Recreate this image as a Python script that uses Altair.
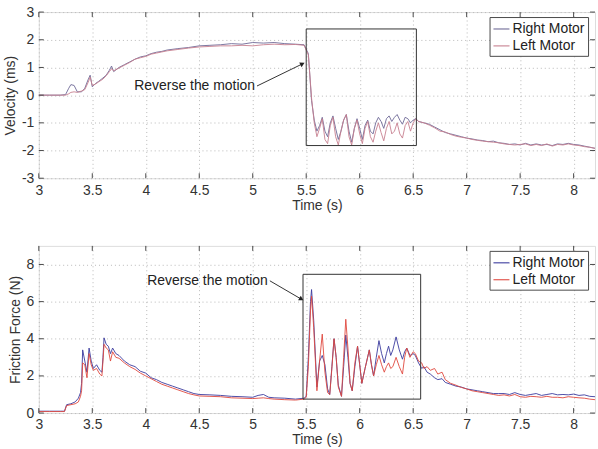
import altair as alt
import pandas as pd

FONT = "Liberation Sans"

# ---------------- Velocity panel data ----------------
t_vel = [3.00, 3.10, 3.20, 3.25, 3.28, 3.30, 3.33, 3.36, 3.40, 3.43, 3.46, 3.48, 3.50, 3.53, 3.56,
         3.60, 3.63, 3.66, 3.68, 3.70, 3.75, 3.80, 3.85, 3.90, 3.95, 4.00, 4.05, 4.10, 4.15, 4.20,
         4.30, 4.40, 4.50, 4.60, 4.70, 4.80, 4.90, 5.00, 5.10, 5.20, 5.30, 5.40, 5.48, 5.52,
         5.550, 5.575, 5.600, 5.625, 5.650, 5.675, 5.700, 5.725, 5.750, 5.775, 5.800, 5.825,
         5.850, 5.875, 5.900, 5.925, 5.950, 5.975, 6.000, 6.025, 6.050, 6.075, 6.100, 6.125,
         6.150, 6.175, 6.200, 6.225, 6.250, 6.275, 6.300, 6.325, 6.350, 6.375, 6.400, 6.425,
         6.450, 6.475, 6.500, 6.525, 6.550, 6.600,
         6.65, 6.70, 6.75, 6.80, 6.85, 6.90, 6.95, 7.00, 7.05, 7.10, 7.15, 7.20, 7.25, 7.30,
         7.35, 7.40, 7.45, 7.50, 7.55, 7.60, 7.65, 7.70, 7.75, 7.80, 7.85, 7.90, 7.95, 8.00,
         8.05, 8.10, 8.15, 8.20]
vel_right = [0, 0, 0, 0.02, 0.25, 0.38, 0.35, 0.12, 0.12, 0.25, 0.55, 0.72, 0.30, 0.42, 0.50,
             0.62, 0.72, 0.90, 1.05, 0.85, 1.00, 1.10, 1.20, 1.30, 1.38, 1.42, 1.50, 1.55, 1.58, 1.63,
             1.68, 1.72, 1.78, 1.80, 1.82, 1.86, 1.84, 1.90, 1.88, 1.90, 1.86, 1.84, 1.82, 1.50,
             -0.2, -0.9, -1.3, -1.1, -0.8, -1.3, -1.5, -1.0, -0.75, -1.2, -1.6, -1.3,
             -0.9, -0.7, -1.3, -1.7, -1.2, -0.85, -1.2, -1.6, -1.1, -0.9, -1.3, -1.4,
             -1.0, -0.8, -0.95, -1.2, -0.85, -0.75, -0.95, -0.8, -0.7, -0.9, -1.05, -0.8,
             -0.85, -1.0, -0.9, -0.85, -0.95, -1.0,
             -1.05, -1.15, -1.25, -1.35, -1.40, -1.45, -1.50, -1.55, -1.58, -1.62, -1.64, -1.68, -1.66, -1.72,
             -1.74, -1.78, -1.76, -1.80, -1.74, -1.80, -1.76, -1.80, -1.78, -1.82, -1.76, -1.78, -1.74, -1.78,
             -1.80, -1.84, -1.88, -1.92]
vel_left = [0, 0, 0, 0, 0.05, 0.10, 0.12, 0.10, 0.15, 0.20, 0.45, 0.65, 0.35, 0.40, 0.48,
            0.58, 0.70, 0.85, 0.95, 0.88, 0.98, 1.08, 1.18, 1.30, 1.35, 1.40, 1.48, 1.52, 1.56, 1.60,
            1.65, 1.70, 1.74, 1.76, 1.78, 1.78, 1.80, 1.78, 1.82, 1.84, 1.82, 1.83, 1.80, 1.45,
            -0.1, -1.0, -1.5, -1.2, -0.85, -1.6, -1.75, -1.1, -0.8, -1.5, -1.8, -1.3,
            -0.9, -0.7, -1.5, -1.8, -1.2, -0.9, -1.4, -1.75, -1.2, -0.95, -1.5, -1.7,
            -1.3, -1.0, -1.35, -1.65, -1.2, -0.95, -1.4, -1.3, -1.0, -1.4, -1.55, -1.1,
            -0.95, -1.3, -1.0, -0.85, -0.95, -1.0,
            -1.08, -1.18, -1.30, -1.33, -1.42, -1.48, -1.52, -1.55, -1.60, -1.63, -1.66, -1.68, -1.70, -1.72,
            -1.76, -1.78, -1.80, -1.78, -1.76, -1.82, -1.78, -1.82, -1.76, -1.84, -1.78, -1.80, -1.76, -1.80,
            -1.82, -1.86, -1.88, -1.92]

# ---------------- Friction force panel data ----------------
t_force = [3.00, 3.10, 3.20, 3.24, 3.26, 3.30, 3.34, 3.37, 3.39, 3.40, 3.41, 3.43, 3.45, 3.47, 3.49,
           3.51, 3.54, 3.57, 3.59, 3.60, 3.61, 3.63, 3.65, 3.67, 3.69, 3.72, 3.75, 3.80, 3.85, 3.90,
           3.95, 4.00, 4.05, 4.10, 4.15, 4.20, 4.25, 4.30, 4.35, 4.40, 4.45, 4.50, 4.60, 4.70, 4.80,
           4.90, 5.00, 5.05, 5.10, 5.15, 5.20, 5.30, 5.40, 5.48, 5.50, 5.52, 5.54, 5.55, 5.57, 5.60,
           5.625, 5.65, 5.675, 5.70, 5.72, 5.74, 5.76, 5.78, 5.80, 5.83, 5.85, 5.87, 5.89, 5.91, 5.93,
           5.955, 5.98, 6.00, 6.02, 6.05, 6.09, 6.11, 6.13, 6.155, 6.18, 6.205, 6.23, 6.25, 6.27, 6.29,
           6.31, 6.34, 6.37, 6.40, 6.42, 6.44, 6.47, 6.50, 6.52, 6.55, 6.58, 6.60, 6.63, 6.66, 6.70,
           6.73, 6.77, 6.80, 6.85, 6.90, 6.95, 7.00, 7.05, 7.10, 7.15, 7.20, 7.25, 7.30, 7.35, 7.40,
           7.45, 7.50, 7.55, 7.60, 7.65, 7.70, 7.75, 7.80, 7.85, 7.90, 7.95, 8.00, 8.05, 8.10, 8.15, 8.20]
force_right = [0.10, 0.10, 0.10, 0.10, 0.45, 0.50, 0.60, 0.80, 1.10, 1.60, 3.40, 2.80, 2.20, 3.50, 2.80,
               2.40, 2.60, 2.30, 2.20, 3.00, 4.05, 3.70, 3.60, 3.20, 3.50, 3.20, 3.10, 2.80, 2.60, 2.50,
               2.25, 2.15, 1.90, 1.80, 1.65, 1.55, 1.45, 1.35, 1.25, 1.15, 1.05, 1.00, 0.98, 0.95, 0.90,
               0.88, 0.85, 0.95, 1.00, 0.85, 0.82, 0.80, 0.75, 0.80, 0.90, 3.00, 6.00, 6.65, 5.00, 1.40,
               2.80, 3.10, 2.60, 1.30, 1.00, 2.50, 4.00, 3.00, 1.50, 0.90, 2.50, 4.20, 3.00, 1.60, 1.20,
               2.50, 3.60, 2.60, 1.60, 2.40, 3.40, 2.60, 2.00, 3.00, 3.90, 3.20, 2.70, 3.20, 3.60, 3.10,
               3.40, 4.10, 3.40, 2.90, 3.30, 3.50, 3.10, 3.20, 3.10, 2.70, 2.40, 2.50, 2.20, 2.10, 1.90,
               1.80, 1.85, 1.65, 1.55, 1.45, 1.40, 1.30, 1.25, 1.20, 1.15, 1.10, 1.05, 1.05, 1.05, 1.00,
               1.10, 1.00, 0.95, 1.00, 1.05, 0.95, 1.00, 1.05, 0.98, 1.00, 0.98, 1.02, 0.95, 0.98, 0.90, 0.88]
force_left = [0.08, 0.08, 0.08, 0.08, 0.40, 0.45, 0.50, 0.60, 0.90, 1.20, 2.70, 2.60, 1.90, 3.20, 2.60,
              2.30, 2.40, 2.10, 2.00, 2.80, 3.70, 3.50, 3.40, 2.80, 3.30, 3.00, 2.95, 2.70, 2.50, 2.35,
              2.15, 2.00, 1.85, 1.70, 1.55, 1.45, 1.35, 1.25, 1.15, 1.05, 0.98, 0.92, 0.90, 0.88, 0.82,
              0.80, 0.78, 0.80, 0.82, 0.78, 0.75, 0.72, 0.70, 0.75, 0.85, 2.50, 5.50, 6.30, 4.60, 1.20,
              2.80, 4.25, 2.20, 1.10, 1.00, 2.40, 4.00, 3.00, 1.40, 0.90, 3.00, 5.05, 3.50, 1.60, 1.20,
              2.70, 3.60, 2.60, 1.60, 2.40, 3.40, 2.60, 2.00, 2.60, 3.10, 2.60, 2.20, 2.50, 2.70, 2.40,
              2.50, 3.00, 2.50, 2.10, 3.00, 3.50, 3.00, 3.30, 3.20, 2.80, 2.70, 2.40, 2.50, 2.30, 2.40,
              2.10, 2.20, 1.80, 1.60, 1.50, 1.38, 1.30, 1.20, 1.15, 1.10, 1.05, 1.00, 0.95, 0.98, 0.92,
              1.00, 0.88, 0.85, 0.90, 0.88, 0.85, 0.90, 0.85, 0.85, 0.82, 0.88, 0.85, 0.82, 0.80, 0.75, 0.72]

series_names = ["Right Motor", "Left Motor"]
x_ticks = [3, 3.5, 4, 4.5, 5, 5.5, 6, 6.5, 7, 7.5, 8]
vel_ticks = [-3, -2, -1, 0, 1, 2, 3]
force_ticks = [0, 2, 4, 6, 8]

# Inset boxes (data coordinates) and annotations
vel_box = {"t": [5.50], "t2": [6.53], "y": [2.39], "y2": [-1.82]}
force_box = {"t": [5.47], "t2": [6.57], "y": [7.47], "y2": [0.75]}
annot_text = "Reverse the motion"
vel_arrow_t = [5.04, 5.465]
vel_arrow_y = [0.33, 1.13]
force_arrow_t = [5.16, 5.455]
force_arrow_y = [7.12, 6.13]

W = 559
H_TOP = 167
H_BOT = 168
FRAME = "#4a4a4a"


def make_axis(values, title_pad):
    return alt.Axis(
        values=values, labelExpr="'' + datum.value", grid=True, gridDash=[1, 3],
        gridColor="#b8b8b8", ticks=False, domain=False, labelFontSize=14, labelFont=FONT,
        labelColor="#333", titleFontSize=14, titleFont=FONT, titleFontWeight="normal",
        titleColor="#333", labelPadding=5, titlePadding=title_pad, labelFlush=False,
        labelOverlap=False)


def panel(t, r, l, ydom, yticks, ytitle, colors, box, arrow_t, arrow_y, arrow_angle, h):
    xs = alt.Scale(domain=[3, 8.2], nice=False, zero=False)
    ys = alt.Scale(domain=ydom, nice=False, zero=False)
    xt = "Time (s)"
    xa = make_axis(x_ticks, 1)
    ya = make_axis(yticks, 4)

    def X(field):
        return alt.X(field, scale=xs, title=xt, axis=xa)

    def Y(field):
        return alt.Y(field, scale=ys, title=ytitle, axis=ya)

    df = pd.concat([
        pd.DataFrame({"t": t, "y": r, "series": series_names[0]}),
        pd.DataFrame({"t": t, "y": l, "series": series_names[1]}),
    ])
    lines = alt.Chart(df).mark_line(strokeWidth=1, opacity=0.9).encode(
        x=X("t:Q"), y=Y("y:Q"),
        color=alt.Color("series:N", scale=alt.Scale(domain=series_names, range=colors),
                        sort=series_names,
                        legend=alt.Legend(orient="none", legendX=453, legendY=5, title=None,
                                          symbolType="stroke", symbolSize=260, symbolStrokeWidth=1.2,
                                          labelFontSize=14, labelFont=FONT, labelColor="#222",
                                          strokeColor=FRAME, fillColor="white", padding=3,
                                          rowPadding=1, labelOffset=2, labelLimit=200)),
    )
    xdf = pd.DataFrame({"t": x_ticks})
    ydf = pd.DataFrame({"y": yticks})
    tick_x_bot = alt.Chart(xdf).mark_rule(color=FRAME, strokeWidth=1).encode(
        x=X("t:Q"), y=alt.value(h), y2=alt.value(h - 5))
    tick_x_top = alt.Chart(xdf).mark_rule(color=FRAME, strokeWidth=1).encode(
        x=X("t:Q"), y=alt.value(0), y2=alt.value(5))
    tick_y_l = alt.Chart(ydf).mark_rule(color=FRAME, strokeWidth=1).encode(
        y=Y("y:Q"), x=alt.value(0), x2=alt.value(5))
    tick_y_r = alt.Chart(ydf).mark_rule(color=FRAME, strokeWidth=1).encode(
        y=Y("y:Q"), x=alt.value(W), x2=alt.value(W - 5))
    rect = alt.Chart(pd.DataFrame(box)).mark_rect(fill=None, fillOpacity=0, stroke="#333",
                                                  strokeWidth=1).encode(
        x=X("t:Q"), x2="t2:Q", y=Y("y:Q"), y2="y2:Q")
    adf = pd.DataFrame({"t": arrow_t, "y": arrow_y, "o": [0, 1]})
    aline = alt.Chart(adf).mark_line(color="#333", strokeWidth=1).encode(
        x=X("t:Q"), y=Y("y:Q"), order="o:Q")
    head = alt.Chart(adf.iloc[[1]]).mark_point(shape="triangle-up", filled=True, color="#222",
                                               size=28, angle=arrow_angle, opacity=1).encode(
        x=X("t:Q"), y=Y("y:Q"))
    txt = alt.Chart(adf.iloc[[0]].assign(label=annot_text)).mark_text(
        align="right", baseline="middle", dx=-2, fontSize=14, font=FONT, color="#222").encode(
        x=X("t:Q"), y=Y("y:Q"), text="label:N")
    return alt.layer(lines, tick_x_bot, tick_x_top, tick_y_l, tick_y_r, rect, aline, head, txt
                     ).properties(width=W, height=h)


top = panel(t_vel, vel_right, vel_left, [-3, 3], vel_ticks, "Velocity (ms)",
            ["#6e6896", "#c77f8f"], vel_box, vel_arrow_t, vel_arrow_y, 64, H_TOP)
bot = panel(t_force, force_right, force_left, [0, 9], force_ticks, "Friction Force (N)",
            ["#3a3a9e", "#e0483e"], force_box, force_arrow_t, force_arrow_y, 120, H_BOT)

chart = alt.vconcat(top, bot, spacing=32).resolve_scale(color="independent").resolve_legend(
    color="independent").properties(padding={"left": 3, "top": 3, "right": 0, "bottom": 0}
).configure_view(stroke=FRAME, strokeWidth=1).configure(background="white")

chart.save("out.html", embed_options={"renderer": "svg", "actions": False})
